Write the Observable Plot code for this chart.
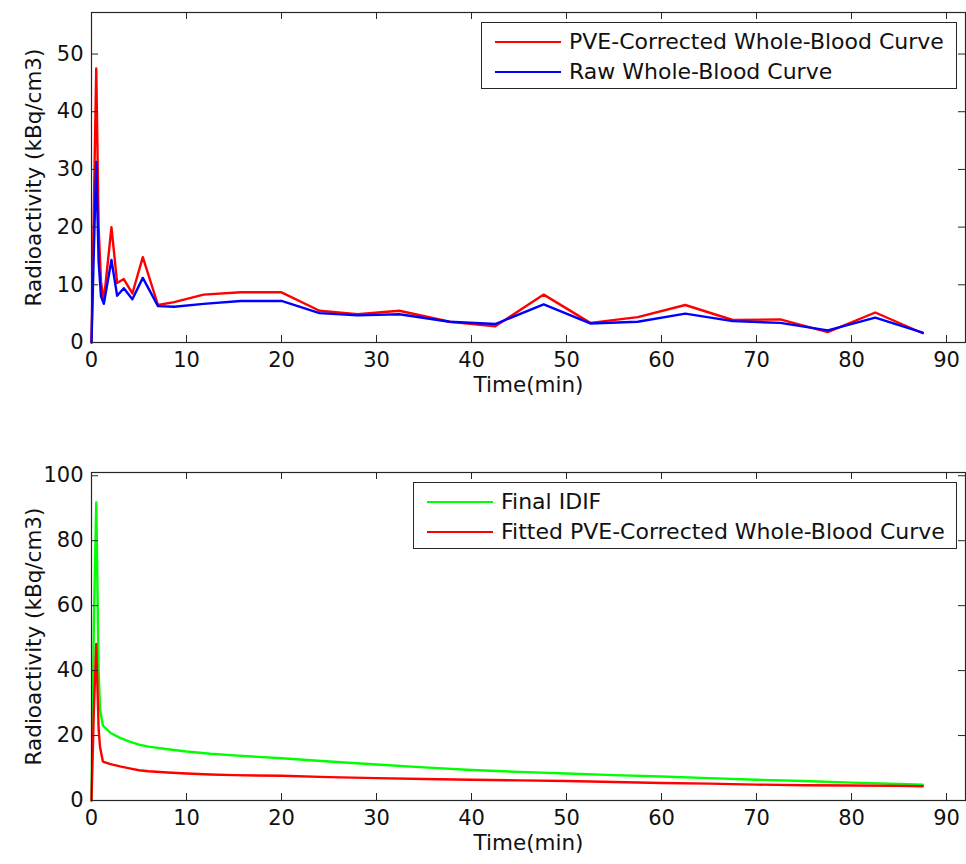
<!DOCTYPE html>
<html>
<head>
<meta charset="utf-8">
<script src="https://cdn.jsdelivr.net/npm/d3@7"></script>
<script src="https://cdn.jsdelivr.net/npm/@observablehq/plot@0.6"></script>
<style>
  html, body { margin: 0; padding: 0; background: #fff; }
  #wrap { position: relative; width: 966px; height: 864px; overflow: hidden; font-family: 'DejaVu Sans', sans-serif; }
  #wrap svg { display: block; }
  .legend { position: absolute; background: #fff; border: 1px solid #262626; box-sizing: border-box; }
  .legend .row { position: absolute; left: 0; right: 0; height: 28px; }
  .legend .swatch { position: absolute; height: 2px; top: 13px; }
  .legend .lab { position: absolute; top: 0; line-height: 28px; font-size: 22px; color: #111; white-space: nowrap; }
</style>
</head>
<body>
<div id="wrap"></div>
<script>
// ---- Data ----
const timeRaw = [0, 0.25, 0.5, 0.75, 1.0, 1.3, 2.1, 2.7, 3.4, 4.3, 5.4, 7.0, 8.7, 11.8, 15.7, 20, 24, 28, 32.4, 37.7, 42.5, 47.6, 52.5, 57.5, 62.5, 67.5, 72.5, 77.5, 82.5, 87.5];
const pveCorrected = [0, 24, 47.5, 20, 10.5, 7.3, 20, 10.3, 11.0, 8.5, 14.8, 6.5, 7.0, 8.3, 8.7, 8.7, 5.5, 4.9, 5.5, 3.6, 2.8, 8.3, 3.4, 4.4, 6.5, 3.9, 4.0, 1.8, 5.2, 1.6];
const rawWholeBlood = [0, 16, 31.3, 14, 8, 6.7, 14.3, 8.1, 9.4, 7.5, 11.2, 6.3, 6.2, 6.7, 7.2, 7.2, 5.1, 4.7, 4.9, 3.6, 3.2, 6.6, 3.3, 3.6, 5.0, 3.7, 3.4, 2.1, 4.3, 1.7];

const timeFit = [0, 0.25, 0.5, 0.75, 0.9, 1.2, 2, 3, 4, 5, 6, 8, 10, 12.5, 15, 20, 25, 30, 35, 40, 45, 50, 55, 60, 65, 70, 75, 80, 85, 87.5];
const finalIDIF = [0, 55, 91.8, 40, 28, 23.1, 20.8, 19.3, 18.1, 17.2, 16.6, 15.8, 15.1, 14.4, 13.9, 13.0, 12.0, 11.1, 10.2, 9.4, 8.8, 8.3, 7.8, 7.4, 6.9, 6.4, 6.0, 5.5, 5.1, 4.9];
const fittedPVE = [0, 28, 48.2, 22, 16.4, 12.0, 11.2, 10.5, 9.9, 9.3, 9.0, 8.6, 8.3, 8.0, 7.8, 7.6, 7.2, 6.9, 6.6, 6.4, 6.2, 6.0, 5.7, 5.4, 5.2, 4.9, 4.7, 4.6, 4.5, 4.4];

const xTicks = [0, 10, 20, 30, 40, 50, 60, 70, 80, 90];
const yTicksTop = [0, 10, 20, 30, 40, 50];
const yTicksBottom = [0, 20, 40, 60, 80, 100];

const xLabel = "Time(min)";
const yLabel = "Radioactivity (kBq/cm3)";
const legendTop = [["PVE-Corrected Whole-Blood Curve", "#ff0000"], ["Raw Whole-Blood Curve", "#0000ff"]];
const legendBottom = [["Final IDIF", "#00ff00"], ["Fitted PVE-Corrected Whole-Blood Curve", "#ff0000"]];

// ---- Build ----
const toRows = (t, v) => t.map((x, i) => ({t: x, v: v[i]}));
const axisColor = "#262626";
const W = 966, H = 432, mL = 91, mR = 1, tickLen = 7;

function panel({mt, mb, yDomain, yTicks, series}) {
  const innerW = W - mL - mR;
  const innerH = H - mt - mb;
  return Plot.plot({
    width: W, height: H,
    marginLeft: mL, marginRight: mR, marginTop: mt, marginBottom: mb,
    style: {fontFamily: "'DejaVu Sans', sans-serif", fontSize: "21px", color: "#111", background: "#fff", overflow: "visible"},
    x: {domain: [0, 92]},
    y: {domain: yDomain},
    marks: [
      ...series.map(s => Plot.line(toRows(s.t, s.v), {x: "t", y: "v", stroke: s.color, strokeWidth: 2.4})),
      Plot.tickX(xTicks, {x: d => d, insetTop: innerH - tickLen, stroke: axisColor}),
      Plot.tickX(xTicks, {x: d => d, insetBottom: innerH - tickLen, stroke: axisColor}),
      Plot.tickY(yTicks, {y: d => d, insetRight: innerW - tickLen, stroke: axisColor}),
      Plot.tickY(yTicks, {y: d => d, insetLeft: innerW - tickLen, stroke: axisColor}),
      Plot.frame({stroke: axisColor, strokeWidth: 1.2}),
      Plot.axisX(xTicks, {tickSize: 0, tickPadding: 10, label: null, fontSize: 21}),
      Plot.axisY(yTicks, {tickSize: 0, tickPadding: 8, label: null, fontSize: 21}),
      Plot.text([xLabel], {frameAnchor: "bottom", dy: 49, fontSize: 21.5, fill: "#111"}),
      Plot.text([yLabel], {frameAnchor: "left", textAnchor: "middle", rotate: -90, dx: -57, fontSize: 21.5, fill: "#111"})
    ]
  });
}

const wrap = document.getElementById("wrap");
wrap.appendChild(panel({
  mt: 12, mb: 90, yDomain: [0, 57.2], yTicks: yTicksTop,
  series: [
    {t: timeRaw, v: pveCorrected, color: "#ff0000"},
    {t: timeRaw, v: rawWholeBlood, color: "#0000ff"}
  ]
}));
wrap.appendChild(panel({
  mt: 40, mb: 64, yDomain: [0, 101], yTicks: yTicksBottom,
  series: [
    {t: timeFit, v: finalIDIF, color: "#00ff00"},
    {t: timeFit, v: fittedPVE, color: "#ff0000"}
  ]
}));

function legend(items, box) {
  const d = document.createElement("div");
  d.className = "legend";
  Object.assign(d.style, {left: box.left + "px", top: box.top + "px", width: box.width + "px", height: box.height + "px"});
  items.forEach(([label, color], i) => {
    const r = document.createElement("div");
    r.className = "row";
    r.style.top = (5 + i * 29.5) + "px";
    const sw = document.createElement("div");
    sw.className = "swatch";
    Object.assign(sw.style, {left: box.swL + "px", width: box.swW + "px", background: color});
    const lb = document.createElement("div");
    lb.className = "lab";
    lb.style.left = box.textL + "px";
    lb.textContent = label;
    r.appendChild(sw); r.appendChild(lb);
    d.appendChild(r);
  });
  wrap.appendChild(d);
}
legend(legendTop, {left: 481, top: 22, width: 476, height: 67, swL: 13, swW: 66, textL: 87});
legend(legendBottom, {left: 413, top: 482, width: 544, height: 67, swL: 13, swW: 66, textL: 87});
</script>
</body>
</html>
